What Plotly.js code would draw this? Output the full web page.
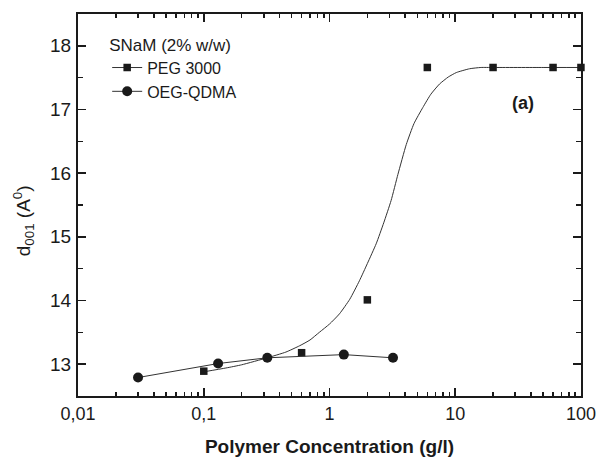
<!DOCTYPE html>
<html>
<head>
<meta charset="utf-8">
<script src="https://cdn.plot.ly/plotly-3.0.1.min.js"></script>
<style>html,body{margin:0;padding:0;background:#fff}#chart{width:597px;height:459px}</style>
</head>
<body>
<div id="chart"></div>
<script>
// PEG 3000 measured points
const pegX = [0.1, 0.6, 2.0, 6.0, 20, 60, 100];
const pegY = [12.89, 13.18, 14.01, 17.66, 17.66, 17.66, 17.66];
// OEG-QDMA measured points
const oegX = [0.03, 0.13, 0.32, 1.3, 3.2];
const oegY = [12.79, 13.01, 13.1, 13.15, 13.1];
// fitted curve for PEG 3000
const fitX = [0.1, 0.15, 0.2, 0.32, 0.45, 0.58, 0.7, 0.83, 1.0, 1.2, 1.45, 1.73, 2.0, 2.35, 2.7, 3.09, 3.5, 4.08, 4.7, 5.52, 6.4, 7.5, 8.8, 10.2, 13, 16, 20, 50, 100];
const fitY = [12.88, 12.94, 12.99, 13.1, 13.19, 13.29, 13.38, 13.5, 13.63, 13.79, 14.02, 14.31, 14.58, 14.89, 15.22, 15.57, 15.98, 16.45, 16.78, 17.03, 17.24, 17.4, 17.51, 17.58, 17.64, 17.66, 17.66, 17.66, 17.66];
const xTickVals = [0.01, 0.1, 1, 10, 100];
const xTickText = ["0,01", "0,1", "1", "10", "100"];
const yTickVals = [13, 14, 15, 16, 17, 18];

const minorX = [];
for (let d = 0.01; d < 100; d *= 10) for (let k = 2; k <= 9; k++) minorX.push(+(d * k).toPrecision(3));

const ink = '#1a1a1a';
const traces = [
  {x: fitX, y: fitY, mode: 'lines', line: {color: '#333', width: 1, shape: 'spline', smoothing: 0.5}, showlegend: false, hoverinfo: 'skip'},
  {x: pegX, y: pegY, mode: 'markers', marker: {symbol: 'square', size: 7.5, color: ink}, showlegend: false, name: 'PEG 3000', cliponaxis: false},
  {x: [null], y: [null], mode: 'lines+markers', name: 'PEG 3000', marker: {symbol: 'square', size: 7.5, color: ink}, line: {color: '#333', width: 1}},
  {x: oegX, y: oegY, mode: 'lines+markers', name: 'OEG-QDMA', marker: {symbol: 'circle', size: 10, color: ink}, line: {color: '#333', width: 1}}
];

const font = {family: 'Liberation Sans, Arial, sans-serif', color: '#1a1a1a'};
const layout = {
  width: 597, height: 459,
  margin: {l: 78, r: 16, t: 14, b: 63},
  paper_bgcolor: '#fff', plot_bgcolor: '#fff',
  separators: ',.',
  font: Object.assign({size: 17}, font),
  showlegend: true,
  legend: {
    x: 0.058, y: 0.962, xanchor: 'left', yanchor: 'top',
    bgcolor: 'rgba(0,0,0,0)', borderwidth: 0,
    font: Object.assign({size: 16}, font),
    title: {text: 'SNaM (2% w/w)', font: Object.assign({size: 17}, font)},
    tracegroupgap: 0
  },
  xaxis: {
    type: 'log', range: [-2.0005, 2.0005],
    tickmode: 'array', tickvals: xTickVals, ticktext: xTickText,
    ticks: 'inside', ticklen: 8, tickwidth: 1.5, tickcolor: ink,
    showline: true, linecolor: ink, linewidth: 2, mirror: 'ticks',
    showgrid: false, zeroline: false, automargin: false,
    ticklabeloverflow: 'allow',
    tickfont: Object.assign({size: 18}, font),
    minor: {tickmode: 'array', tickvals: minorX, ticks: 'inside', ticklen: 4, tickcolor: ink, showgrid: false},
    title: {text: '<b>Polymer Concentration (g/l)</b>', font: Object.assign({size: 19}, font), standoff: 17}
  },
  yaxis: {
    range: [12.5, 18.5],
    tickmode: 'array', tickvals: yTickVals,
    ticks: 'inside', ticklen: 8, tickwidth: 1.5, tickcolor: ink,
    showline: true, linecolor: ink, linewidth: 2, mirror: 'ticks',
    showgrid: false, zeroline: false, automargin: false,
    tickfont: Object.assign({size: 19}, font),
    ticklabelstandoff: 1,
    minor: {dtick: 0.5, ticks: 'inside', ticklen: 5, tickcolor: ink, showgrid: false},
    title: {text: 'd<sub>001</sub> (A<sup>0</sup>)&nbsp;&nbsp;&nbsp;&nbsp;&nbsp;&nbsp;', font: Object.assign({size: 19}, font), standoff: 14}
  },
  annotations: [
    {text: '<b>(a)</b>', xref: 'paper', yref: 'paper', x: 0.91, y: 0.798, showarrow: false,
     font: Object.assign({size: 18}, font)}
  ]
};

Plotly.newPlot('chart', traces, layout, {displayModeBar: false, staticPlot: true});
</script>
</body>
</html>
